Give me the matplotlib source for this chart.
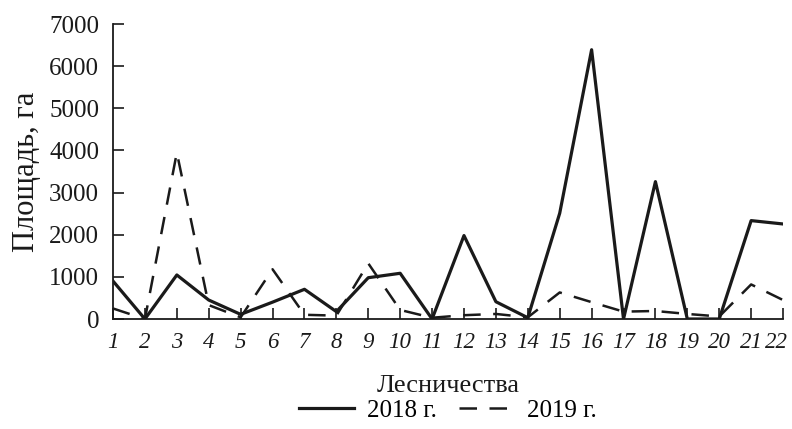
import matplotlib
matplotlib.use("Agg")
import matplotlib.pyplot as plt
import matplotlib.transforms as mtransforms

plt.rcParams['font.family'] = ['Liberation Serif', 'DejaVu Serif']
plt.rcParams['xtick.direction'] = 'in'
plt.rcParams['ytick.direction'] = 'in'

forestries = list(range(1, 23))
area_2018 = [900, 0, 1045, 450, 110, 400, 705, 175, 980, 1085, 0,
             1980, 410, 30, 2510, 6390, 0, 3260, 0, 0, 2335, 2255]
area_2019 = [250, 0, 3950, 330, 40, 1180, 100, 80, 1320, 215, 30,
             90, 120, 40, 630, 400, 175, 190, 120, 60, 820, 450]
yticks = [0, 1000, 2000, 3000, 4000, 5000, 6000, 7000]

fig = plt.figure(figsize=(7.92, 4.29), dpi=100)
ax = fig.add_axes([0.1427, 0.2564, 0.846, 0.6876])

ax.plot(forestries, area_2018, color='#1a1a1a', lw=2.3, label='2018 г.')
ax.plot(forestries, area_2019, color='#1a1a1a', lw=1.8, ls=(0, (7, 5)),
        label='2019 г.')

ax.set_xlim(1, 22)
ax.set_ylim(0, 7000)
ax.set_xticks(forestries)
ax.set_xticklabels([str(f) for f in forestries], fontstyle='italic')
ax.set_yticks(yticks)
ax.tick_params(length=8, width=1.2, labelsize=18, colors='#1a1a1a')
ax.tick_params(axis='x', pad=9, labelsize=16.5)
ax.tick_params(axis='y', pad=10)
for s in ['top', 'right']:
    ax.spines[s].set_visible(False)
for s in ['left', 'bottom']:
    ax.spines[s].set_linewidth(1.3)
    ax.spines[s].set_color('#1a1a1a')

# last label sits at the figure edge, nudge it left a bit
last = ax.get_xticklabels()[-1]
last.set_transform(last.get_transform() +
                   mtransforms.ScaledTranslation(-7 / 100, 0, fig.dpi_scale_trans))

ax.set_ylabel('Площадь, га', fontsize=22, color='#1a1a1a', labelpad=6)
ax.set_xlabel('Лесничества', fontsize=19, color='#1a1a1a', labelpad=16)
ax.legend(loc='center', bbox_to_anchor=(0.5, -0.31), ncol=2,
          frameon=False, fontsize=18, handlelength=2.2, handletextpad=0.5,
          columnspacing=0.9, borderaxespad=0, borderpad=0)

fig.savefig('out.png', dpi=100)
